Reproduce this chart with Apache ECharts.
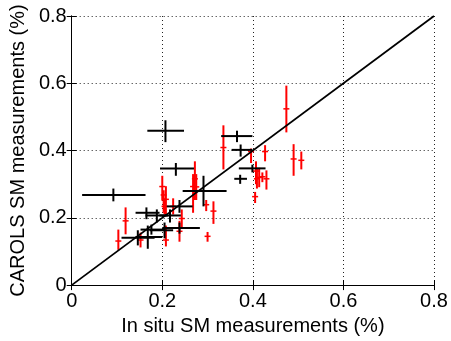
<!DOCTYPE html>
<html>
<head>
<meta charset="utf-8">
<script src="https://cdn.jsdelivr.net/npm/echarts@6.0.0/dist/echarts.min.js"></script>
<style>
  html, body { margin: 0; padding: 0; background: #fff; }
  #chart { width: 451px; height: 341px; }
</style>
</head>
<body>
<div id="chart"></div>
<script>
// axis ticks
const tickValues = [0, 0.2, 0.4, 0.6, 0.8];
const tickLabels = ['0', '0.2', '0.4', '0.6', '0.8'];

// black crosses: x / y centre with horizontal and vertical error ranges
const blackX   = [0.207, 0.092, 0.230, 0.365, 0.373, 0.399, 0.372, 0.291, 0.165, 0.188, 0.217, 0.238, 0.205, 0.238, 0.168, 0.146, 0.176];
const blackXLo = [0.167, 0.023, 0.195, 0.330, 0.353, 0.369, 0.359, 0.245, 0.141, 0.163, 0.194, 0.210, 0.172, 0.200, 0.141, 0.110, 0.152];
const blackXHi = [0.248, 0.163, 0.270, 0.399, 0.399, 0.428, 0.387, 0.342, 0.194, 0.213, 0.241, 0.267, 0.224, 0.283, 0.200, 0.183, 0.205];
const blackY   = [0.459, 0.268, 0.347, 0.443, 0.402, 0.347, 0.316, 0.280, 0.215, 0.207, 0.207, 0.234, 0.163, 0.170, 0.143, 0.141, 0.165];
const blackYLo = [0.425, 0.249, 0.325, 0.425, 0.382, 0.335, 0.301, 0.234, 0.196, 0.186, 0.186, 0.215, 0.139, 0.153, 0.108, 0.118, 0.150];
const blackYHi = [0.490, 0.287, 0.363, 0.459, 0.418, 0.358, 0.328, 0.325, 0.231, 0.225, 0.225, 0.253, 0.186, 0.186, 0.177, 0.163, 0.180];

// red points: vertical error bars only
const redX   = [0.103, 0.119, 0.152, 0.200, 0.203, 0.208, 0.205, 0.208, 0.224, 0.243, 0.238, 0.268, 0.272, 0.275, 0.297, 0.300, 0.313, 0.335, 0.396, 0.405, 0.407, 0.409, 0.414, 0.421, 0.427, 0.430, 0.474, 0.490, 0.507];
const redY   = [0.131, 0.191, 0.134, 0.293, 0.268, 0.255, 0.234, 0.134, 0.234, 0.198, 0.160, 0.293, 0.316, 0.292, 0.239, 0.145, 0.220, 0.409, 0.397, 0.263, 0.339, 0.316, 0.320, 0.322, 0.397, 0.316, 0.524, 0.375, 0.371];
const redYLo = [0.105, 0.151, 0.112, 0.251, 0.215, 0.204, 0.210, 0.115, 0.210, 0.167, 0.129, 0.215, 0.253, 0.253, 0.220, 0.129, 0.182, 0.344, 0.363, 0.244, 0.300, 0.287, 0.291, 0.306, 0.368, 0.284, 0.454, 0.325, 0.344];
const redYHi = [0.165, 0.231, 0.156, 0.325, 0.282, 0.294, 0.258, 0.177, 0.258, 0.225, 0.191, 0.330, 0.368, 0.330, 0.253, 0.158, 0.249, 0.475, 0.406, 0.277, 0.368, 0.349, 0.349, 0.335, 0.416, 0.341, 0.593, 0.419, 0.397];

// 1:1 line
const diagonal = [[0, 0], [0.8, 0.8]];

const FONT = 'Liberation Sans, Arial, sans-serif';

const blackData = blackX.map((x, i) => [x, blackY[i], blackXLo[i], blackXHi[i], blackYLo[i], blackYHi[i]]);
const redData = redX.map((x, i) => [x, redY[i], redYLo[i], redYHi[i]]);

function seg(a, b, color, w) {
  return {
    type: 'line',
    shape: { x1: a[0], y1: a[1], x2: b[0], y2: b[1] },
    style: { stroke: color, lineWidth: w }
  };
}

const baseAxis = {
  type: 'value',
  min: 0,
  max: 0.8,
  interval: 0.2,
  axisLine: { show: true, lineStyle: { color: '#000', width: 1 } },
  axisTick: { show: true, inside: true, length: 5, lineStyle: { color: '#000' } },
  splitLine: { show: false }
};

const gridLine = { show: true, lineStyle: { color: '#222', type: [1, 3], width: 1 } };

const labelFmt = v => tickLabels[tickValues.findIndex(t => Math.abs(t - v) < 1e-6)] || '';

const chart = echarts.init(document.getElementById('chart'));
chart.setOption({
  backgroundColor: '#fff',
  animation: false,
  grid: { left: 68, right: 17, top: 16, bottom: 46 },
  xAxis: [
    {
      ...baseAxis,
      position: 'bottom',
      name: 'In situ SM measurements (%)',
      nameLocation: 'middle',
      nameGap: 24,
      nameTextStyle: { fontFamily: FONT, fontSize: 20, color: '#000' },
      axisLabel: { fontFamily: FONT, fontSize: 20, color: '#000', margin: 6, formatter: labelFmt },
      splitLine: gridLine
    },
    { ...baseAxis, position: 'top', axisLabel: { show: false } }
  ],
  yAxis: [
    {
      ...baseAxis,
      position: 'left',
      name: 'CAROLS SM measurements (%)',
      nameLocation: 'middle',
      nameGap: 36,
      nameTextStyle: { fontFamily: FONT, fontSize: 20, color: '#000' },
      axisLabel: { fontFamily: FONT, fontSize: 20, color: '#000', margin: 5, formatter: labelFmt },
      splitLine: gridLine
    },
    { ...baseAxis, position: 'right', axisLabel: { show: false } }
  ],
  series: [
    {
      type: 'custom',
      xAxisIndex: 0,
      yAxisIndex: 0,
      data: redData,
      renderItem: (params, api) => {
        const x = api.value(0), y = api.value(1);
        const lo = api.coord([x, api.value(2)]);
        const hi = api.coord([x, api.value(3)]);
        const c = api.coord([x, y]);
        return {
          type: 'group',
          children: [
            seg(lo, hi, '#ff0000', 2),
            seg([c[0] - 3, c[1]], [c[0] + 3, c[1]], '#ff0000', 1.5)
          ]
        };
      }
    },
    {
      type: 'custom',
      xAxisIndex: 0,
      yAxisIndex: 0,
      data: blackData,
      renderItem: (params, api) => {
        const x = api.value(0), y = api.value(1);
        return {
          type: 'group',
          children: [
            seg(api.coord([api.value(2), y]), api.coord([api.value(3), y]), '#000', 2),
            seg(api.coord([x, api.value(4)]), api.coord([x, api.value(5)]), '#000', 2)
          ]
        };
      }
    },
    {
      type: 'line',
      xAxisIndex: 0,
      yAxisIndex: 0,
      data: diagonal,
      symbol: 'none',
      lineStyle: { color: '#000', width: 1.8 },
      z: 3
    }
  ]
});
</script>
</body>
</html>
